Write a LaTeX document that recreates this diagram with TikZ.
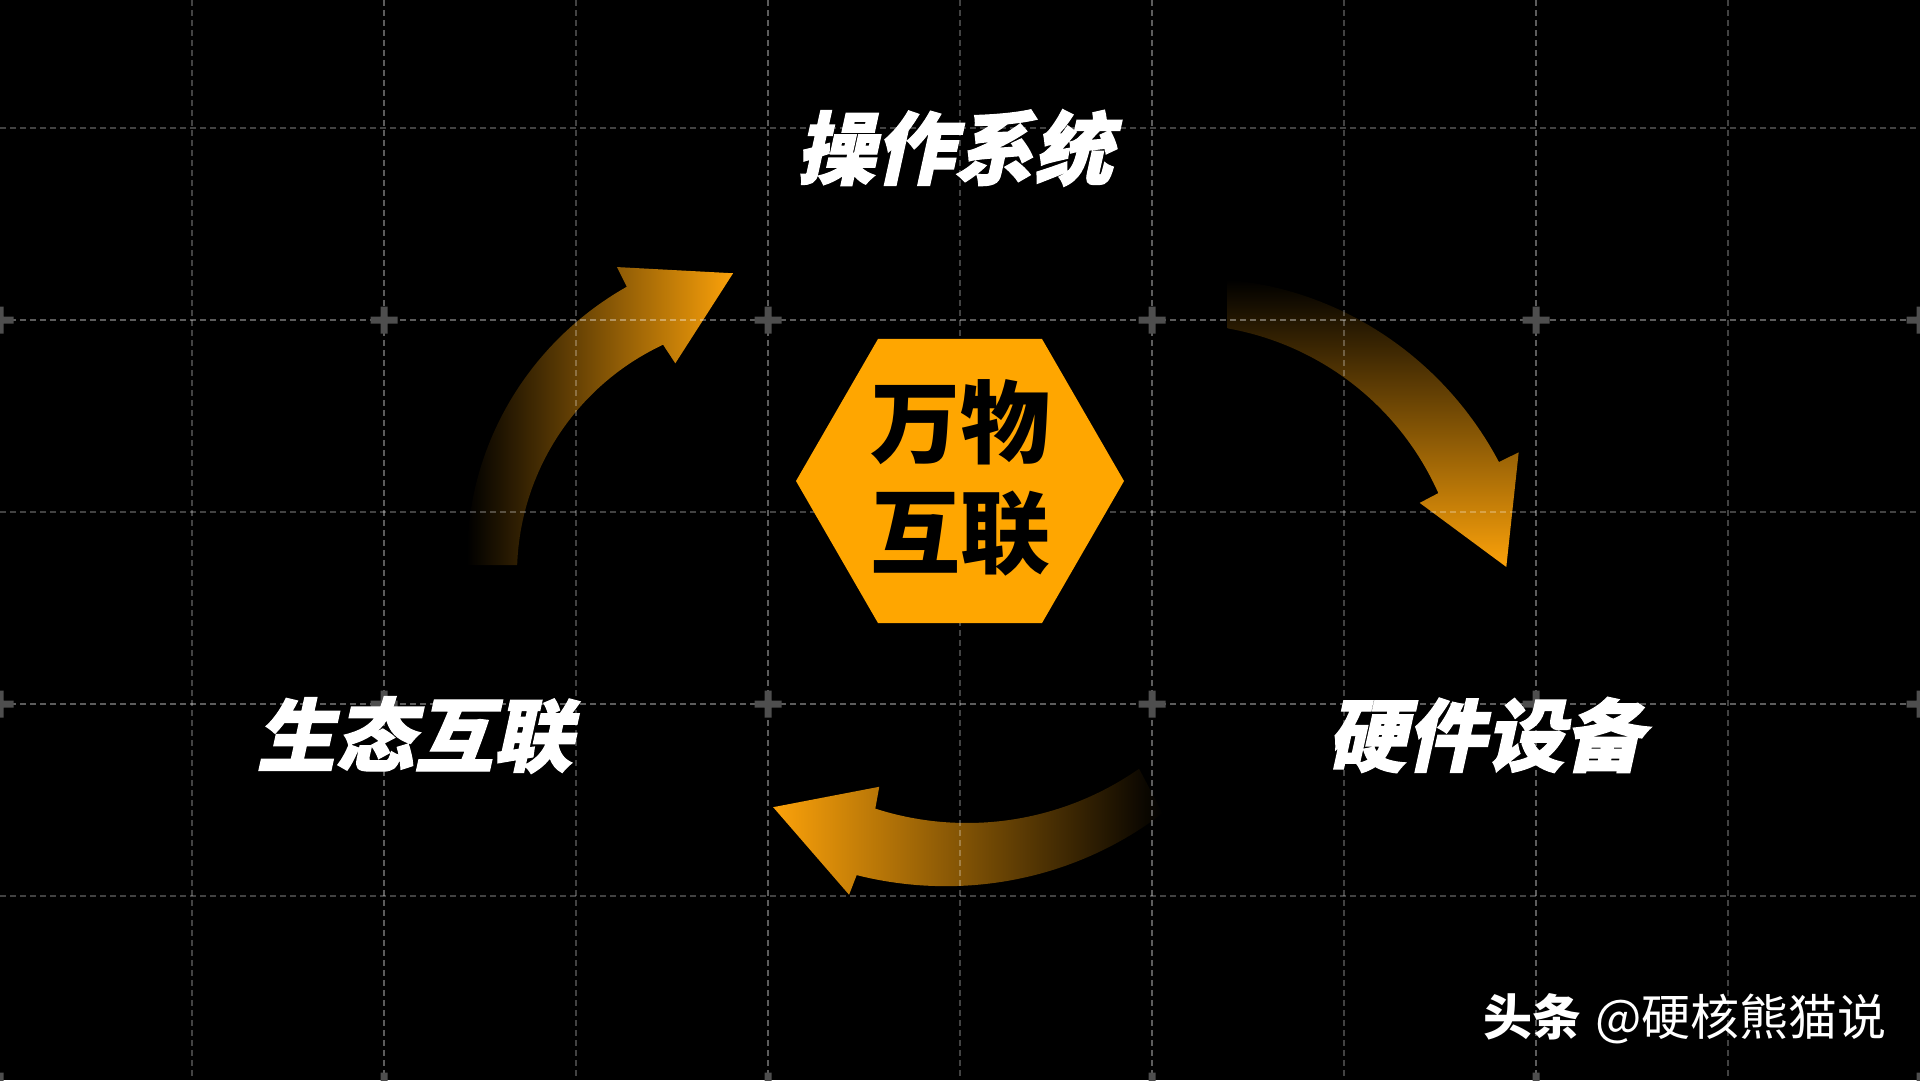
\documentclass[tikz,border=0pt]{standalone}
\usepackage{fontspec}
\newfontfamily\cjk{Noto Sans CJK SC}
\newfontfamily\cjkheavy{Noto Sans CJK SC}[BoldFeatures={FakeBold=1.6}]
\usetikzlibrary{shapes.geometric}
\definecolor{hexorange}{RGB}{255,166,0}
\definecolor{arroworange}{RGB}{252,162,10}
\definecolor{crossgray}{RGB}{78,78,78}
\tikzset{
  majorline/.style={draw=white, draw opacity=0.36, line width=1.8pt, dash pattern=on 6pt off 4pt},
  minorline/.style={draw=white, draw opacity=0.26, line width=1.4pt, dash pattern=on 6pt off 4pt},
  biglabel/.style={text=white, inner sep=0pt, font=\cjkheavy\bfseries\fontsize{79}{84}\selectfont},
  hexagonbox/.style={regular polygon, regular polygon sides=6,
    fill=hexorange, minimum size=328pt, inner sep=0pt},
  hubtext/.style={text=black, align=center, inner sep=0pt, font=\cjk\bfseries\fontsize{90}{110}\selectfont}
}
\begin{document}
\begin{tikzpicture}[x=1pt, y=-1pt]
\useasboundingbox (0,0) rectangle (1920,1080);
\fill[black] (0,0) rectangle (1920,1080);

% upper-left arrow
\shade[left color=black, right color=arroworange]
  plot[domain=182:245, samples=50] ({770+253*cos(\x)}, {574+253*sin(\x)})
  -- ({770+231*cos(245.8)}, {574+231*sin(245.8)})
  -- ({770+303*cos(263)}, {574+303*sin(263)})
  -- ({770+343*cos(243.5)}, {574+343*sin(243.5)})
  -- plot[domain=243.5:181.7, samples=50] ({770+(303+18*(\x-181.7)/61.8)*cos(\x)}, {574+(303+18*(\x-181.7)/61.8)*sin(\x)})
  -- cycle;

% upper-right arrow
\shade[top color=black, bottom color=arroworange]
  plot[domain=-80:-24, samples=50] ({1178+285*cos(\x)}, {609+285*sin(\x)})
  -- ({1178+264*cos(-23.7)}, {609+264*sin(-23.7)})
  -- ({1178+331*cos(-7.3)}, {609+331*sin(-7.3)})
  -- ({1178+375*cos(-24.7)}, {609+375*sin(-24.7)})
  -- plot[domain=-24.6:-81.5, samples=50] ({1178+(333+20*(\x+81.5)/56.9)*cos(\x)}, {609+(333+20*(\x+81.5)/56.9)*sin(\x)})
  -- cycle;

% bottom arrow
\shade[left color=arroworange, right color=black]
  plot[domain=55:107.8, samples=50] ({967+300*cos(\x)}, {523+300*sin(\x)})
  -- ({967+278*cos(108.4)}, {523+278*sin(108.4)})
  -- ({967+344*cos(124.3)}, {523+344*sin(124.3)})
  -- ({967+390*cos(107.6)}, {523+390*sin(107.6)})
  -- plot[domain=107.4:56, samples=50] ({967+(350+19*(\x-56)/51.4)*cos(\x)}, {523+(350+19*(\x-56)/51.4)*sin(\x)})
  -- cycle;

% grid
\foreach \gx in {192,576,960,1344,1728} \draw[minorline] (\gx,0) -- (\gx,1080);
\foreach \gx in {384,768,1152,1536} \draw[majorline] (\gx,0) -- (\gx,1080);
\foreach \gy in {128,512,896} \draw[minorline] (0,\gy) -- (1920,\gy);
\foreach \gy in {320,704} \draw[majorline] (0,\gy) -- (1920,\gy);

% cross marks
\foreach \cx in {0,384,768,1152,1536,1920}
  \foreach \cy in {320,704,1086}
    \fill[crossgray] ({\cx-13.5},{\cy-3.5}) rectangle ({\cx+13.5},{\cy+3.5})
                     ({\cx-3.5},{\cy-13.5}) rectangle ({\cx+3.5},{\cy+13.5});

% central hexagon
\node[hexagonbox] (hub) at (960,481) {};
\node[hubtext] (hubtitle) at (960,478) {万物\\互联};

% labels
\begin{scope}[shift={(961,148)}, xslant=0.22]
  \node[biglabel, transform shape] (os) at (0,0) {操作系统};
\end{scope}
\begin{scope}[shift={(421,735)}, xslant=0.22]
  \node[biglabel, transform shape] (eco) at (0,0) {生态互联};
\end{scope}
\begin{scope}[shift={(1492,735)}, xslant=0.22]
  \node[biglabel, transform shape] (hw) at (0,0) {硬件设备};
\end{scope}

% watermark
\node[text=white, inner sep=0pt] (wm) at (1685,1019)
  {{\cjk\bfseries\fontsize{49}{55}\selectfont 头条}\hspace{14pt}{\cjk\fontsize{49}{55}\selectfont @硬核熊猫说}};
\end{tikzpicture}
\end{document}
